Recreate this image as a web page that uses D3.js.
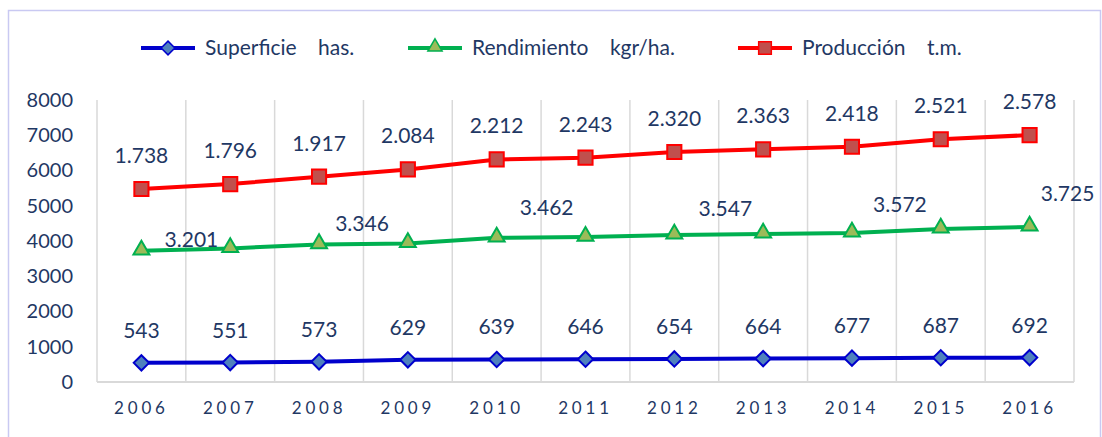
<!DOCTYPE html>
<meta charset="utf-8">
<style>
body { margin: 0; background: #fff; }
text { font-family: Lato, "Open Sans", sans-serif; fill: #1F3864; }
.grid line { stroke: #d9d9d9; stroke-width: 1.5px; }
.line { fill: none; stroke-width: 4px; stroke-linejoin: round; }
</style>
<body>
<svg width="1102" height="437"></svg>
<script src="https://d3js.org/d3.v7.min.js"></script>
<script>

// data
var years = ["2006","2007","2008","2009","2010","2011","2012","2013","2014","2015","2016"];
var superficie = [543, 551, 573, 629, 639, 646, 654, 664, 677, 687, 692];
var rendimiento = [3720, 3790, 3900, 3930, 4090, 4110, 4170, 4200, 4230, 4340, 4400];
var produccion = [5475, 5615, 5825, 6030, 6315, 6365, 6525, 6600, 6675, 6885, 7005];

var superficieLabels = ["543","551","573","629","639","646","654","664","677","687","692"];
var produccionLabels = ["1.738","1.796","1.917","2.084","2.212","2.243","2.320","2.363","2.418","2.521","2.578"];
var rendLabelYears = ["2006","2008","2010","2012","2014","2016"];
var rendLabels = ["3.201","3.346","3.462","3.547","3.572","3.725"];

var yTicks = [0,1000,2000,3000,4000,5000,6000,7000,8000];

var legendNames = ["Superficie    has.", "Rendimiento    kgr/ha.", "Producción    t.m."];

var margin = {top: 100, left: 97, right: 28, bottom: 55},
    width = 1102 - margin.left - margin.right,
    height = 437 - margin.top - margin.bottom;

var svg = d3.select("svg");

// outer frame
svg.append("rect")
    .attr("x", 8.5).attr("y", 10.5)
    .attr("width", 1092).attr("height", 440)
    .attr("fill", "none")
    .attr("stroke", "#c9c9f2")
    .attr("stroke-width", 1.5);

var g = svg.append("g")
    .attr("transform", "translate(" + margin.left + "," + margin.top + ")");

var x = d3.scaleBand().domain(years).range([0, width]);
var y = d3.scaleLinear().domain([0, 8000]).range([height, 0]);
var cx = function(d) { return x(d) + x.bandwidth() / 2; };

// vertical gridlines at the band edges
var edges = years.map(function(d) { return x(d); }).concat([width]);
g.append("g").attr("class", "grid")
  .selectAll("line").data(edges).enter().append("line")
    .attr("x1", function(d) { return d; }).attr("x2", function(d) { return d; })
    .attr("y1", 0).attr("y2", height);

g.append("line")
    .attr("x1", 0).attr("x2", width)
    .attr("y1", height).attr("y2", height)
    .attr("stroke", "#d9d9d9").attr("stroke-width", 2);

// y axis labels
var yAxis = g.append("g")
    .call(d3.axisLeft(y).tickValues(yTicks).tickSize(0).tickPadding(24).tickFormat(d3.format("d")));
yAxis.select(".domain").remove();
yAxis.selectAll("text")
    .style("font-size", "20px")
    .attr("fill", "#1F3864");

// x axis labels
var xAxis = g.append("g")
    .attr("transform", "translate(0," + height + ")")
    .call(d3.axisBottom(x).tickSize(0).tickPadding(20));
xAxis.select(".domain").remove();
xAxis.selectAll("text")
    .style("font-size", "17px")
    .style("letter-spacing", "3.8px")
    .attr("fill", "#1F3864");

var series = [
  {name: legendNames[0], values: superficie, line: "#0000CC", fill: "#4F81BD", symbol: d3.symbolDiamond2, size: 150},
  {name: legendNames[1], values: rendimiento, line: "#00B050", fill: "#9BBB59", symbol: d3.symbolTriangle, size: 110},
  {name: legendNames[2], values: produccion, line: "#FF0000", fill: "#C0504D", symbol: d3.symbolSquare, size: 200}
];

var valueline = d3.line()
    .x(function(d, i) { return cx(years[i]); })
    .y(function(d) { return y(d); });

series.forEach(function(s) {
  g.append("path")
      .data([s.values])
      .attr("class", "line")
      .attr("stroke", s.line)
      .attr("d", valueline);

  g.selectAll(null).data(s.values).enter().append("path")
      .attr("d", d3.symbol().type(s.symbol).size(s.size))
      .attr("transform", function(d, i) {
        var dy = s.symbol === d3.symbolTriangle ? -1 : 0;
        return "translate(" + cx(years[i]) + "," + (y(d) + dy) + ")";
      })
      .attr("fill", s.fill)
      .attr("stroke", s.line)
      .attr("stroke-width", 2);
});

// data labels
g.selectAll(null).data(superficieLabels).enter().append("text")
    .attr("x", function(d, i) { return cx(years[i]); })
    .attr("y", function(d, i) { return y(superficie[i]) - 25; })
    .attr("text-anchor", "middle")
    .style("font-size", "21px")
    .text(function(d) { return d; });

g.selectAll(null).data(produccionLabels).enter().append("text")
    .attr("x", function(d, i) { return cx(years[i]); })
    .attr("y", function(d, i) { return y(produccion[i]) - 26; })
    .attr("text-anchor", "middle")
    .style("font-size", "21px")
    .text(function(d) { return d; });

var rendDx = [50, 43, 50, 51, 48, 38],
    rendDy = [-4, -14, -23, -19, -21, -26];
g.selectAll(null).data(rendLabels).enter().append("text")
    .attr("x", function(d, i) { return cx(rendLabelYears[i]) + rendDx[i]; })
    .attr("y", function(d, i) { return y(rendimiento[years.indexOf(rendLabelYears[i])]) + rendDy[i]; })
    .attr("text-anchor", "middle")
    .style("font-size", "21px")
    .text(function(d) { return d; });

// legend
var legendX = [141, 408, 738];
var legend = svg.append("g").attr("transform", "translate(0,48)");
series.forEach(function(s, i) {
  var lg = legend.append("g").attr("transform", "translate(" + legendX[i] + ",0)");
  lg.append("line")
      .attr("x1", 0).attr("x2", 54)
      .attr("stroke", s.line).attr("stroke-width", 4);
  lg.append("path")
      .attr("d", d3.symbol().type(s.symbol).size(s.size * 0.8))
      .attr("transform", "translate(27," + (s.symbol === d3.symbolTriangle ? -1 : 0) + ")")
      .attr("fill", s.fill).attr("stroke", s.line).attr("stroke-width", 1.5);
  lg.append("text")
      .attr("x", 64).attr("dy", "0.35em")
      .style("font-size", "21px")
      .style("white-space", "pre")
      .text(s.name);
});

</script>
</body>
